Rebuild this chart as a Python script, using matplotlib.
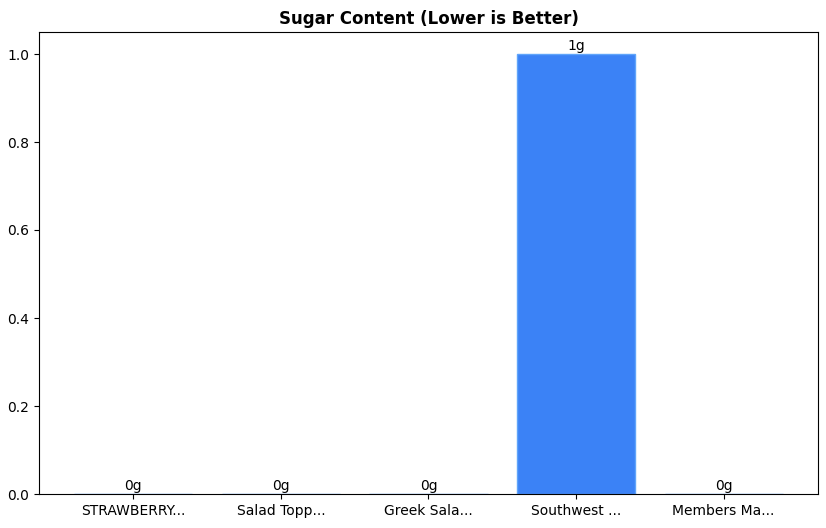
import matplotlib
matplotlib.use("Agg")
import matplotlib.pyplot as plt

categories = ["STRAWBERRY...", "Salad Topp...", "Greek Sala...", "Southwest ...", "Members Ma..."]
sugar = [0, 0, 0, 1, 0]
labels = ["0g", "0g", "0g", "1g", "0g"]

fig = plt.figure(figsize=(8.26, 5.28), dpi=100)
ax = fig.add_axes([39/826, 1-494/528, (818-39)/826, (494-32)/528])
bars = ax.bar(categories, sugar, width=0.8, color="#3b82f6", edgecolor="#60a5fa", linewidth=1)
ax.bar_label(bars, labels=labels, padding=1, fontsize=10)
ax.set_ylim(0, 1.05)
ax.set_title("Sugar Content (Lower is Better)", fontweight="bold", fontsize=12)
fig.savefig("out.png", dpi=100)
